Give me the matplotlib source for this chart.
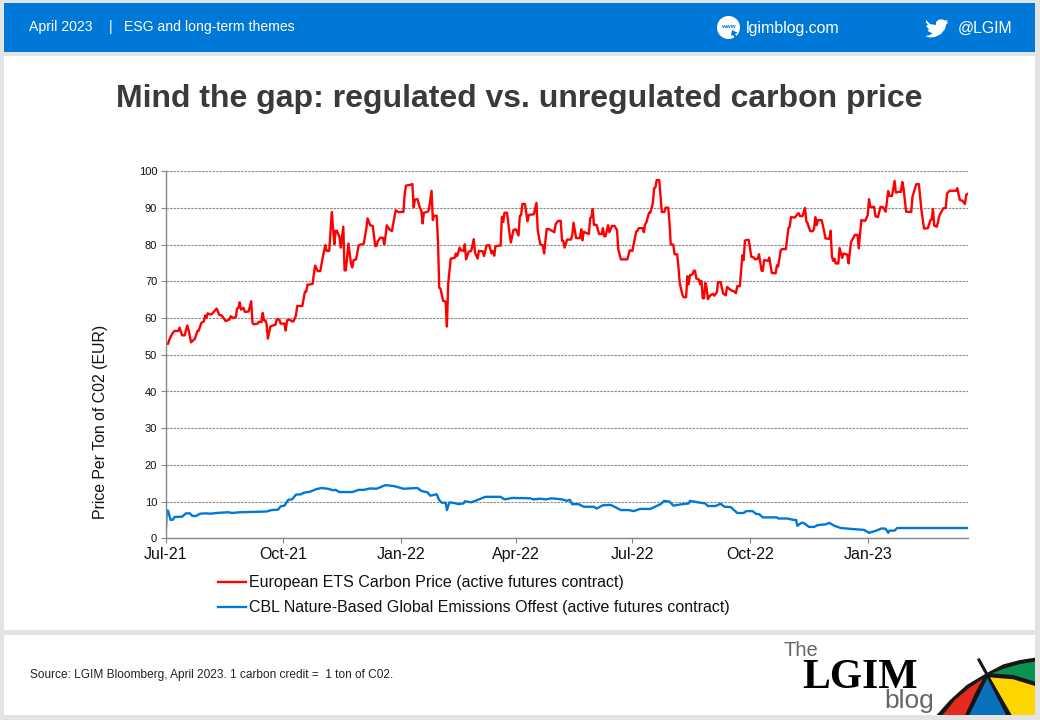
import numpy as np
import matplotlib
matplotlib.use("Agg")
import matplotlib.pyplot as plt
import matplotlib.dates as mdates
from matplotlib.patches import Rectangle, Polygon, Circle

plt.rcParams['font.family'] = ['Liberation Sans', 'DejaVu Sans']

title = "Mind the gap: regulated vs. unregulated carbon price"
y_label = "Price Per Ton of C02 (EUR)"
ets_label = "European ETS Carbon Price (active futures contract)"
cbl_label = "CBL Nature-Based Global Emissions Offest (active futures contract)"
source = "Source: LGIM Bloomberg, April 2023. 1 carbon credit =  1 ton of C02."
start_date = np.datetime64("2021-07-01")
end_day = 627
tick_dates = ["2021-07-01", "2021-10-01", "2022-01-01", "2022-04-01", "2022-07-01", "2022-10-01", "2023-01-01"]
y_ticks = list(range(0, 101, 10))

ets_days = [0,2,3,5,7,10,11,13,15,17,18,20,23,25,26,28,30,31,32,33,35,36,38,40,42,44,47,50,51,53,55,56,57,58,59,61,62,65,67,68,69,72,73,75,76,77,78,79,80,82,84,86,87,89,90,93,94,95,97,99,100,102,103,107,109,110,111,115,116,117,119,121,123,125,126,128,130,132,133,134,136,137,139,140,141,143,145,146,147,149,151,155,157,158,160,162,164,165,166,168,170,171,172,173,175,177,180,182,186,187,188,191,193,194,195,197,199,200,201,202,205,206,208,209,210,212,213,214,215,217,219,220,221,223,226,227,228,230,231,233,234,235,237,239,241,242,244,245,248,249,251,253,255,256,257,258,262,263,264,265,267,269,270,272,274,276,277,278,279,281,283,284,288,290,291,293,295,296,297,298,300,304,305,307,309,310,311,312,314,317,318,319,321,324,325,326,327,331,332,333,334,335,337,339,341,342,343,344,346,347,349,351,353,354,356,361,363,365,368,369,370,373,374,375,376,378,379,381,382,383,384,386,388,390,391,393,394,395,397,398,400,401,402,404,405,407,408,409,410,412,413,414,415,417,418,419,420,421,422,423,424,426,428,429,431,432,434,436,438,439,441,443,444,446,447,449,451,452,453,454,456,458,460,461,463,464,466,467,468,471,472,474,477,478,479,481,482,485,487,488,489,492,494,495,496,498,500,501,502,504,506,507,508,509,510,513,515,516,519,520,521,522,523,524,526,527,529,530,533,534,536,538,539,541,542,544,547,549,550,551,554,555,557,559,561,563,565,566,568,570,571,573,575,576,577,579,583,584,587,589,591,593,596,598,599,600,601,603,605,608,610,611,613,618,619,621,623,625,626,627]
ets_values = [53.0,53.0,54.1,55.6,56.5,56.5,57.4,55.3,55.3,58.0,56.8,53.4,54.4,56.5,56.6,58.7,59.1,60.7,60.1,61.3,61.0,61.0,61.8,62.6,60.9,60.7,59.2,59.6,60.5,60.0,60.3,62.6,62.8,64.3,62.3,62.8,61.7,61.8,64.6,58.7,58.3,58.5,59.0,58.9,61.4,59.4,59.4,58.5,54.4,57.7,58.0,58.2,59.7,59.6,58.5,58.5,56.6,59.4,59.6,59.1,59.1,60.7,63.3,63.3,67.2,67.2,69.1,69.3,72.1,74.3,72.8,72.8,76.7,79.9,78.3,78.3,88.9,80.1,83.8,83.8,82.1,79.2,84.9,73.0,73.0,80.3,74.9,73.8,75.8,76.0,79.8,80.3,84.4,87.2,85.3,85.1,79.6,79.7,81.0,81.9,81.9,80.1,82.3,85.3,84.2,83.7,89.4,88.9,88.9,93.8,96.1,96.3,96.5,90.2,92.3,92.4,89.9,89.4,85.8,88.7,89.0,89.6,94.7,86.7,87.9,87.9,81.2,68.3,68.0,64.7,64.5,57.7,69.4,76.2,76.4,77.6,76.9,79.2,78.5,78.3,80.1,76.0,78.1,78.3,81.5,77.8,76.2,78.3,78.2,76.9,79.8,79.9,77.6,78.3,77.0,79.6,79.8,87.6,86.2,88.7,88.7,82.9,80.6,84.0,84.2,82.5,87.8,88.1,91.1,91.1,86.4,88.1,88.3,91.4,84.0,80.1,79.8,77.6,81.0,84.3,84.2,83.4,85.6,86.5,86.5,81.1,81.0,79.2,81.4,81.4,82.6,86.0,81.8,81.8,84.2,81.2,83.5,82.9,87.2,87.6,89.7,85.4,85.4,82.9,82.9,84.5,82.3,82.3,85.3,83.4,85.1,85.1,84.0,78.7,76.0,76.0,78.5,78.3,83.6,83.8,84.5,84.5,83.4,85.6,86.1,88.7,88.7,91.3,95.4,95.6,97.6,97.6,88.9,88.9,90.1,90.1,86.2,80.1,80.0,77.4,77.4,74.1,69.6,66.5,65.7,65.7,71.4,69.2,71.7,71.9,72.9,72.9,70.8,70.5,69.2,70.1,65.4,65.4,69.6,68.3,65.2,66.2,66.6,66.1,67.0,69.8,69.8,66.7,66.2,68.5,67.9,67.4,67.4,66.8,68.7,68.7,77.1,75.8,81.1,81.3,81.3,76.7,76.5,76.0,76.2,77.4,72.9,72.9,75.8,75.6,76.5,72.3,72.2,74.4,74.1,78.5,78.8,78.8,84.5,84.9,87.5,87.4,88.3,88.6,87.8,87.8,90.0,86.3,85.8,83.7,83.7,84.2,87.5,85.3,86.7,86.7,83.5,81.7,81.6,83.8,76.7,75.6,76.2,74.9,74.9,79.1,76.4,77.6,77.3,74.9,80.8,82.0,82.7,82.7,79.0,86.7,86.5,88.1,92.4,90.3,90.3,87.8,87.5,90.3,90.2,89.0,94.6,93.3,93.3,97.4,94.2,94.4,94.4,97.1,95.4,89.0,88.9,93.1,96.5,96.5,89.4,84.4,84.5,86.7,86.9,89.7,85.2,84.9,87.9,89.9,90.0,94.0,94.7,94.7,95.4,92.2,92.0,91.1,93.6,93.8]

cbl_days = [0,1,2,4,6,7,13,16,19,21,24,27,32,35,40,49,52,58,79,83,88,90,93,96,99,102,106,108,113,118,122,127,131,133,136,146,151,155,160,165,172,179,186,191,197,200,205,207,212,214,216,219,220,222,226,229,233,234,239,245,250,262,265,271,285,288,293,297,302,310,314,316,318,323,327,335,337,342,348,351,356,362,366,371,379,387,390,394,397,404,409,410,418,422,424,430,434,437,442,447,452,454,459,462,464,467,478,479,486,491,493,494,497,499,503,507,510,516,519,523,528,538,546,550,555,560,563,565,566,570,572,627]
cbl_values = [0.0,7.6,7.5,5.0,5.1,5.8,5.9,6.8,6.8,6.1,6.1,6.7,6.8,6.7,6.9,7.1,6.9,7.1,7.3,7.7,7.8,8.7,8.9,10.5,10.6,11.9,12.0,12.4,12.7,13.4,13.7,13.5,13.1,13.2,12.6,12.6,13.2,13.2,13.6,13.5,14.5,14.2,13.5,13.6,13.7,12.9,12.5,11.6,12.0,10.4,9.7,9.7,7.7,9.8,9.6,9.3,9.5,10.1,9.8,10.6,11.3,11.3,10.6,11.0,10.9,10.6,10.8,10.6,10.9,10.6,10.2,10.5,9.3,9.3,8.6,8.6,8.1,9.0,9.1,8.6,7.7,7.7,7.4,8.0,8.0,9.3,10.2,10.0,8.9,9.3,9.5,10.2,9.7,9.5,8.8,8.8,9.4,8.6,8.5,6.9,6.9,7.4,7.4,6.6,6.6,5.7,5.7,5.4,5.4,5.0,5.0,3.4,4.2,4.2,3.1,3.1,3.6,3.8,4.2,3.4,2.8,2.5,2.3,1.5,2.0,2.7,2.6,1.5,2.1,2.1,2.8,2.8]

W, H = 1040, 720
fig = plt.figure(figsize=(W/100, H/100), dpi=100, facecolor="#e3e3e3")

# page furniture, in pixel coordinates
bg = fig.add_axes([0, 0, 1, 1], zorder=0)
bg.set_xlim(0, W); bg.set_ylim(H, 0); bg.axis("off")
BLUE = "#0078d7"
bg.add_patch(Rectangle((4, 3), 1031, 49, fc=BLUE, ec="none"))
bg.add_patch(Rectangle((4, 56), 1031, 574, fc="white", ec="none"))
bg.add_patch(Rectangle((4, 635), 1031, 80, fc="white", ec="none"))
bg.text(29, 27.5, "April 2023", color="white", fontsize=10.1, va="center")
bg.text(109, 27.5, "|", color="white", fontsize=10.1, va="center")
bg.text(124, 27.5, "ESG and long-term themes", color="white", fontsize=10.1, va="center")
bg.add_patch(Circle((728.5, 27.5), 11.5, fc="white", ec="none"))
bg.text(728, 27, "www", color=BLUE, fontsize=4.5, fontweight="bold", ha="center", va="center")
bg.add_patch(Polygon([(732, 30), (738, 33), (735, 34), (737, 37), (735, 38), (733, 35), (731, 36)], fc=BLUE, ec="none"))
bg.text(746, 28.5, "lgimblog.com", color="white", fontsize=11.4, va="center")
bird = [(926,20),(930,24),(936,25),(936,22),(939,19.5),(943,19.5),(945,20.5),(948,20),(946,22.5),(948.5,22),
        (946,25),(945,29),(941,34),(935,37),(929,37.5),(925.5,36),(930,35),(932.5,33.5),(928.5,31.5),(927.5,29.5),
        (929.5,29.5),(926.5,26.5),(926.5,25),(928.5,25.5),(926,22.5)]
bg.add_patch(Polygon(bird, fc="white", ec="none"))
bg.text(958, 28.5, "@LGIM", color="white", fontsize=11.4, va="center")
bg.text(519.5, 99, title, color="#3a3a3a", fontsize=23, fontweight="bold", ha="center", va="center")
bg.text(30, 675, source, color="#222222", fontsize=8.6, va="center")

# logo
bg.text(783, 651, "The", color="#666666", fontsize=14.5, va="center")
bg.text(802, 678, "LGIM", color="black", fontsize=30, va="center", fontweight="bold", family="Liberation Serif")
bg.text(884, 701, "blog", color="#666666", fontsize=19, va="center")
def z(points):
    return [(930 + a/3, 640 + b/3) for a, b in points]
umbrella = [
    ("#161616", [(20,225),(60,180),(110,135),(172,98),(220,73),(270,60),(315,53),(315,225)]),
    ("#e52b20", [(38,225),(75,180),(120,142),(158,117),(135,160),(105,225)]),
    ("#0a72bd", [(172,115),(118,225),(228,225)]),
    ("#ffd500", [(180,112),(250,118),(315,138),(315,225),(245,225)]),
    ("#0b9150", [(185,100),(225,85),(270,72),(315,65),(315,125),(250,105)]),
]
for col, pts in umbrella:
    bg.add_patch(Polygon(z(pts), fc=col, ec="none"))
bg.plot(*zip(*z([(147,60),(172,105)])), color="#161616", lw=2.2)

# chart
ax = fig.add_axes([165.5/W, 1 - 538.3/H, 802/W, 367/H], zorder=1)
ax.patch.set_alpha(0)
ets_dates = start_date + np.array(ets_days).astype("timedelta64[D]")
cbl_dates = start_date + np.array(cbl_days).astype("timedelta64[D]")
ax.plot(ets_dates, ets_values, color="#ff0000", lw=1.7, label=ets_label, solid_joinstyle="round")
ax.plot(cbl_dates, cbl_values, color=BLUE, lw=1.7, label=cbl_label, solid_joinstyle="round")
ax.set_xlim(start_date, start_date + np.timedelta64(end_day, "D"))
ax.set_ylim(0, 100)
ax.set_xticks(np.array(tick_dates, dtype="datetime64[D]"))
ax.xaxis.set_major_formatter(mdates.DateFormatter("%b-%y"))
ax.set_yticks(y_ticks)
ax.grid(axis="y", color="#8a8a8a", lw=0.8, ls=(0, (2.2, 1)))
ax.set_axisbelow(True)
for s in ("top", "right"):
    ax.spines[s].set_visible(False)
for s in ("left", "bottom"):
    ax.spines[s].set_color("#868686")
    ax.spines[s].set_linewidth(1.0)
ax.tick_params(axis="y", labelsize=8, length=3.5, color="#868686", labelcolor="#111111", pad=2.5)
ax.tick_params(axis="x", labelsize=11.5, length=3.5, color="#868686", labelcolor="#111111", pad=3)
bg.text(101, 422, y_label, rotation=90, fontsize=11.4, color="#111111", ha="center", va="center")
leg = ax.legend(loc="upper left", bbox_to_anchor=(218/W, 1 - 575.5/H), bbox_transform=fig.transFigure,
                frameon=False, fontsize=11.5, handlelength=1.75, handletextpad=0.2,
                labelspacing=0.62, borderpad=0, borderaxespad=0, labelcolor="#111111")

fig.savefig("out.png", dpi=100, facecolor=fig.get_facecolor())
